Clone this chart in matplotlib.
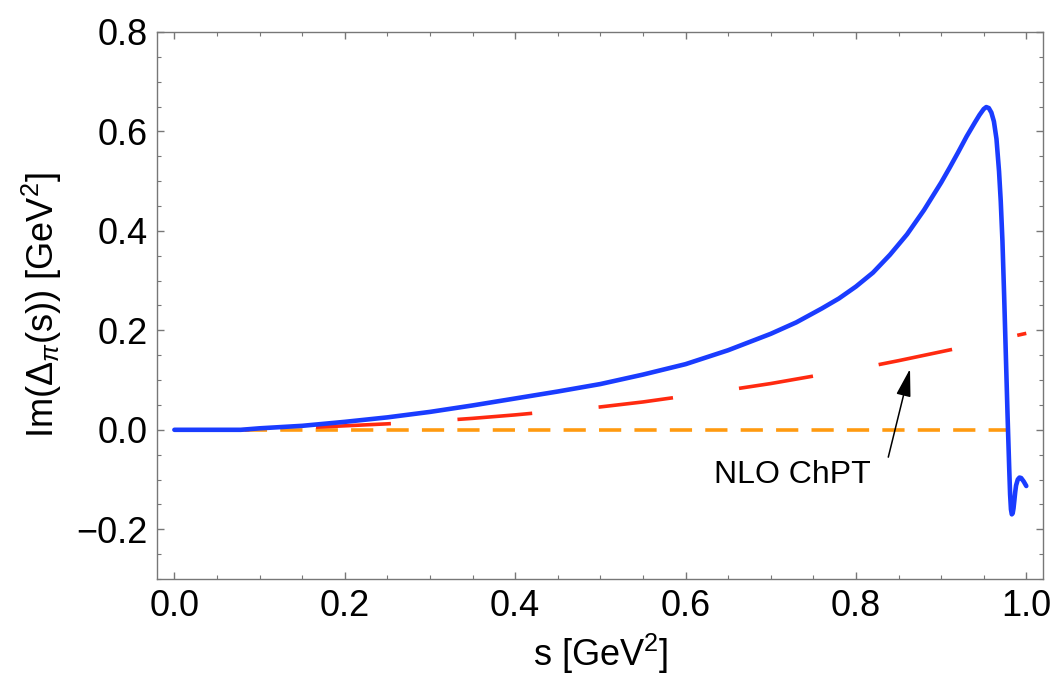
import matplotlib
matplotlib.use("Agg")
import matplotlib.pyplot as plt
from matplotlib.ticker import MultipleLocator, FuncFormatter

# Full result (blue)
s_full = [0.0, 0.078, 0.1, 0.15, 0.2, 0.25, 0.3, 0.35, 0.4, 0.45, 0.5, 0.55, 0.6,
          0.65, 0.7, 0.73, 0.76, 0.78, 0.80, 0.82, 0.84, 0.86, 0.88, 0.90, 0.91,
          0.92, 0.93, 0.94, 0.945, 0.950, 0.953, 0.956, 0.959, 0.962, 0.965, 0.968,
          0.970, 0.972, 0.974, 0.976, 0.978, 0.980, 0.981, 0.982, 0.983, 0.984,
          0.985, 0.986, 0.987, 0.988, 0.990, 0.992, 0.994, 0.997, 1.0]
im_full = [0.0, 0.0, 0.003, 0.008, 0.016, 0.025, 0.036, 0.049, 0.063, 0.077, 0.092,
           0.111, 0.132, 0.160, 0.193, 0.216, 0.244, 0.264, 0.288, 0.316, 0.352,
           0.393, 0.442, 0.497, 0.527, 0.558, 0.590, 0.619, 0.633, 0.645, 0.649,
           0.647, 0.638, 0.620, 0.585, 0.52, 0.46, 0.38, 0.27, 0.15, 0.03, -0.08,
           -0.13, -0.16, -0.170, -0.168, -0.158, -0.142, -0.125, -0.112, -0.100,
           -0.096, -0.097, -0.104, -0.113]

# NLO ChPT (red, long dashes)
s_nlo = [0.0, 0.078, 0.1, 0.15, 0.2, 0.25, 0.3, 0.35, 0.4, 0.45, 0.5, 0.55, 0.6,
         0.65, 0.7, 0.75, 0.8, 0.85, 0.9, 0.95, 1.0]
im_nlo = [0.0, 0.0, 0.001, 0.004, 0.008, 0.012, 0.017, 0.023, 0.030, 0.038, 0.046,
          0.056, 0.068, 0.080, 0.093, 0.108, 0.122, 0.139, 0.157, 0.175, 0.194]

# LO (orange, zero line up to threshold)
s_lo = [0.0, 0.98]
im_lo = [0.0, 0.0]

plt.rcParams['font.family'] = ['Liberation Sans', 'DejaVu Sans']
plt.rcParams['mathtext.fontset'] = 'custom'
plt.rcParams['mathtext.rm'] = 'Liberation Sans'
plt.rcParams['mathtext.it'] = 'Liberation Sans:italic'
plt.rcParams['lines.scale_dashes'] = False

fig = plt.figure(figsize=(10.56, 6.76), dpi=100)
ax = fig.add_axes([0.149, 0.1435, 0.839, 0.8092])

ax.plot(s_lo, im_lo, color='#ff9a10', lw=2.6, dashes=(16, 9.5), zorder=2)
ax.plot(s_nlo, im_nlo, color='#ff2a10', lw=2.6, dashes=(54, 48), zorder=3)
ax.plot(s_full, im_full, color='#1a3cff', lw=3.3, zorder=4,
        solid_joinstyle='round', solid_capstyle='round')

ax.text(0.725, -0.090, 'NLO ChPT', fontsize=23, ha='center', va='center')
ax.annotate('', xy=(0.8635, 0.1224), xytext=(0.838, -0.055),
            arrowprops=dict(arrowstyle='-|>,head_length=1.7,head_width=0.45',
                            color='black', lw=1.1, shrinkA=0, shrinkB=0))

ax.set_xlim(-0.02, 1.02)
ax.set_ylim(-0.3, 0.8)
ax.xaxis.set_major_locator(MultipleLocator(0.2))
ax.xaxis.set_minor_locator(MultipleLocator(0.05))
ax.yaxis.set_major_locator(MultipleLocator(0.2))
ax.yaxis.set_minor_locator(MultipleLocator(0.05))
fmt = FuncFormatter(lambda v, p: ('%.1f' % v).replace('-', '\u2212'))
ax.xaxis.set_major_formatter(fmt)
ax.yaxis.set_major_formatter(fmt)

frame_col = '#777777'
for sp in ax.spines.values():
    sp.set_color(frame_col)
    sp.set_linewidth(1.0)
ax.tick_params(which='both', direction='in', top=True, right=True,
               color=frame_col, labelsize=26, labelcolor='black')
ax.tick_params(which='major', length=5, width=1.0, pad=7)
ax.tick_params(which='minor', length=3, width=0.8)

ax.set_xlabel(r'$\mathrm{s\ [GeV}^2\mathrm{]}$', fontsize=26, labelpad=6)
ax.set_ylabel(r'$\mathrm{Im(\Delta}_{\pi}\mathrm{(s))\ [GeV}^2\mathrm{]}$', fontsize=26, labelpad=9)

fig.savefig('out.png', dpi=100)
